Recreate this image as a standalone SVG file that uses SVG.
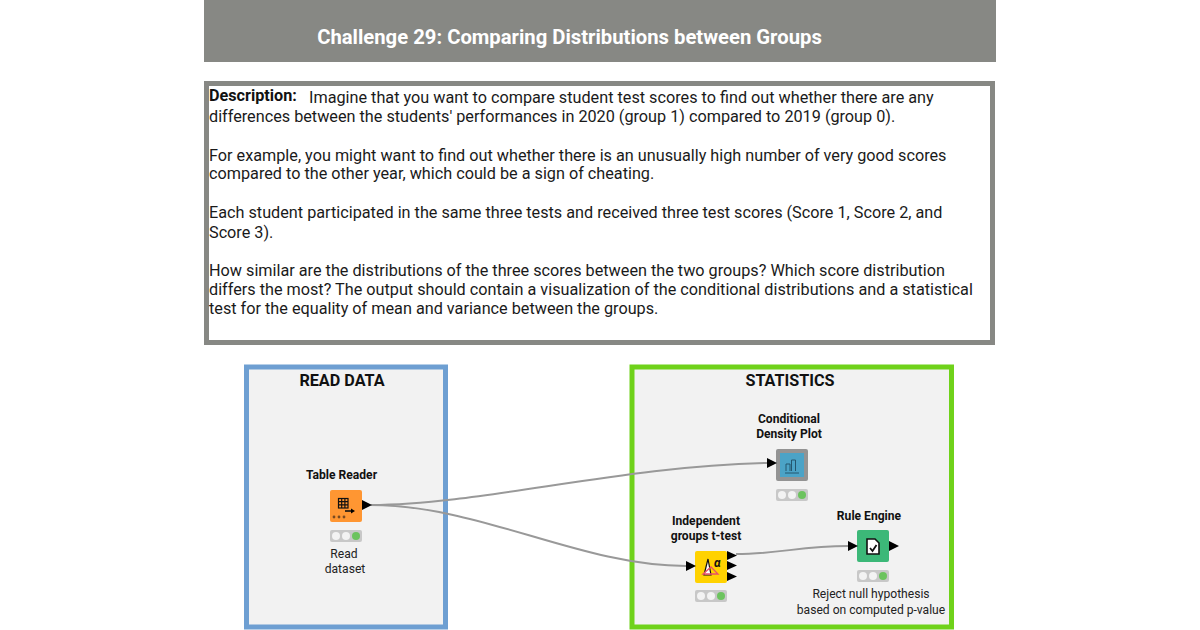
<svg xmlns="http://www.w3.org/2000/svg" width="1200" height="630" viewBox="0 0 1200 630">
<defs>
<style>
text{font-family:Roboto,"Liberation Sans",sans-serif;fill:#111}
.d{font-size:16.230px;fill:#1a1a1a}
.t{font-size:12.100px;font-weight:700;text-anchor:middle;fill:#111}
.s{font-size:12.100px;text-anchor:middle;fill:#222}
.h{font-size:16.200px;font-weight:700;text-anchor:middle;fill:#111}
.c{fill:none;stroke:#999;stroke-width:2}
.p{fill:#000}
.tl{fill:#c8c8c8}
.w{fill:#f3f3f3}
.g{fill:#6cc35e}
.i{fill:none;stroke:#111;stroke-width:1.200}
</style>
<g id="lights"><rect x="0" y="0" width="32" height="12" rx="2" class="tl"/><circle cx="6" cy="6" r="4" class="w"/><circle cx="16" cy="6" r="4" class="w"/><circle cx="26" cy="6" r="4" class="g"/></g>
</defs>
<rect width="1200" height="630" fill="#fff"/>
<rect x="204" y="0" width="792" height="62" fill="#878884"/>
<text x="569.500" y="44" font-size="20.250" font-weight="700" text-anchor="middle" style="fill:#fff">Challenge 29: Comparing Distributions between Groups</text>
<rect x="206.500" y="83.500" width="786" height="259" fill="#fff" stroke="#878884" stroke-width="5"/>
<text x="209" y="101" style="font-weight:700;font-size:16.200px;fill:#111">Description:</text>
<text class="d" x="309" y="103">Imagine that you want to compare student test scores to find out whether there are any</text>
<text class="d" x="209" y="122">differences between the students' performances in 2020 (group 1) compared to 2019 (group 0).</text>
<text class="d" x="209" y="161">For example, you might want to find out whether there is an unusually high number of very good scores</text>
<text class="d" x="209" y="179">compared to the other year, which could be a sign of cheating.</text>
<text class="d" x="209" y="218">Each student participated in the same three tests and received three test scores (Score 1, Score 2, and</text>
<text class="d" x="209" y="238">Score 3).</text>
<text class="d" x="209" y="276">How similar are the distributions of the three scores between the two groups? Which score distribution</text>
<text class="d" x="209" y="295">differs the most? The output should contain a visualization of the conditional distributions and a statistical</text>
<text class="d" x="209" y="314">test for the equality of mean and variance between the groups.</text>
<rect x="246.500" y="367" width="199" height="260" fill="#f2f2f2" stroke="#6e9fd2" stroke-width="5"/>
<rect x="632" y="367" width="319.500" height="260" fill="#f2f2f2" stroke="#6fd21a" stroke-width="5"/>
<text class="h" x="342" y="386">READ DATA</text>
<text class="h" x="790" y="386">STATISTICS</text>
<g id="connectors">
<path class="c" d="M371 505C480 505 620 466 767 463"/>
<path class="c" d="M371 505C480 505 580 566 686 566"/>
<path class="c" d="M736 554C780 554 800 546 848 546"/>
</g>
<g id="table-reader">
<text class="t" x="341.500" y="479">Table Reader</text>
<rect x="330" y="490" width="32" height="32" rx="2" fill="#ff9632"/>
<g class="i"><rect x="338.500" y="498.500" width="9.500" height="9.500"/><path d="M341.700 498.500v9.500M344.900 498.500v9.500M338.500 501.700h9.500M338.500 504.900h9.500"/></g>
<path d="M345 511h7" stroke="#111" stroke-width="1.600"/><path class="p" d="M351 508.500l4 2.500-4 2.500z"/>
<g fill="#7a4a20"><circle cx="334" cy="517" r="1.400"/><circle cx="339" cy="517" r="1.400"/><circle cx="344" cy="517" r="1.400"/></g>
<path class="p" d="M362 500l10 5-10 5z"/>
<use href="#lights" x="330" y="530"/>
<text class="s" x="344" y="558">Read</text>
<text class="s" x="345" y="573">dataset</text>
</g>
<g id="conditional-density-plot">
<text class="t" x="789" y="423">Conditional</text>
<text class="t" x="789" y="438">Density Plot</text>
<rect x="776" y="449" width="32" height="32" rx="2" fill="#939393"/>
<rect x="780" y="453" width="24" height="24" fill="#4ba3c7"/>
<path d="M786 471v-7h4v7M791.500 471v-11h4v11M785 473h14" fill="none" stroke="#24566e" stroke-width="1"/>
<path class="p" d="M767 458l10 5-10 5z"/>
<use href="#lights" x="776" y="489"/>
</g>
<g id="independent-groups-t-test">
<text class="t" x="706" y="524.500">Independent</text>
<text class="t" x="706" y="540">groups t-test</text>
<rect x="695" y="551" width="32" height="32" rx="2" fill="#ffd200"/>
<path d="M704 575l4-16 3 16z" fill="#fff" stroke="#111" stroke-width="1.200"/>
<path d="M703 574l8-7 7 7z" fill="none" stroke="#e8506a" stroke-width="1.300"/>
<text x="714" y="567" font-size="12" font-weight="700" style="font-style:italic">α</text>
<path class="p" d="M686 561l10 5-10 5z"/>
<path class="p" d="M727 551l10 4.500-10 4.500zM727 561l10 4.500-10 4.500zM727 572l10 4.500-10 4.500z"/>
<use href="#lights" x="695" y="590"/>
</g>
<g id="rule-engine">
<text class="t" x="869" y="519.500">Rule Engine</text>
<rect x="857" y="530" width="32" height="32" rx="2" fill="#3cb878"/>
<path d="M867 539h8l4 4v11h-12z" fill="#fff" stroke="#111" stroke-width="1.600"/>
<path d="M870 548l2.500 3 4-6" fill="none" stroke="#111" stroke-width="1.800"/>
<path class="p" d="M848 541l10 5-10 5z"/>
<path class="p" d="M889 541l10 5-10 5z"/>
<use href="#lights" x="857" y="570"/>
<text class="s" x="871" y="598">Reject null hypothesis</text>
<text class="s" x="871" y="614">based on computed p-value</text>
</g>
</svg>
